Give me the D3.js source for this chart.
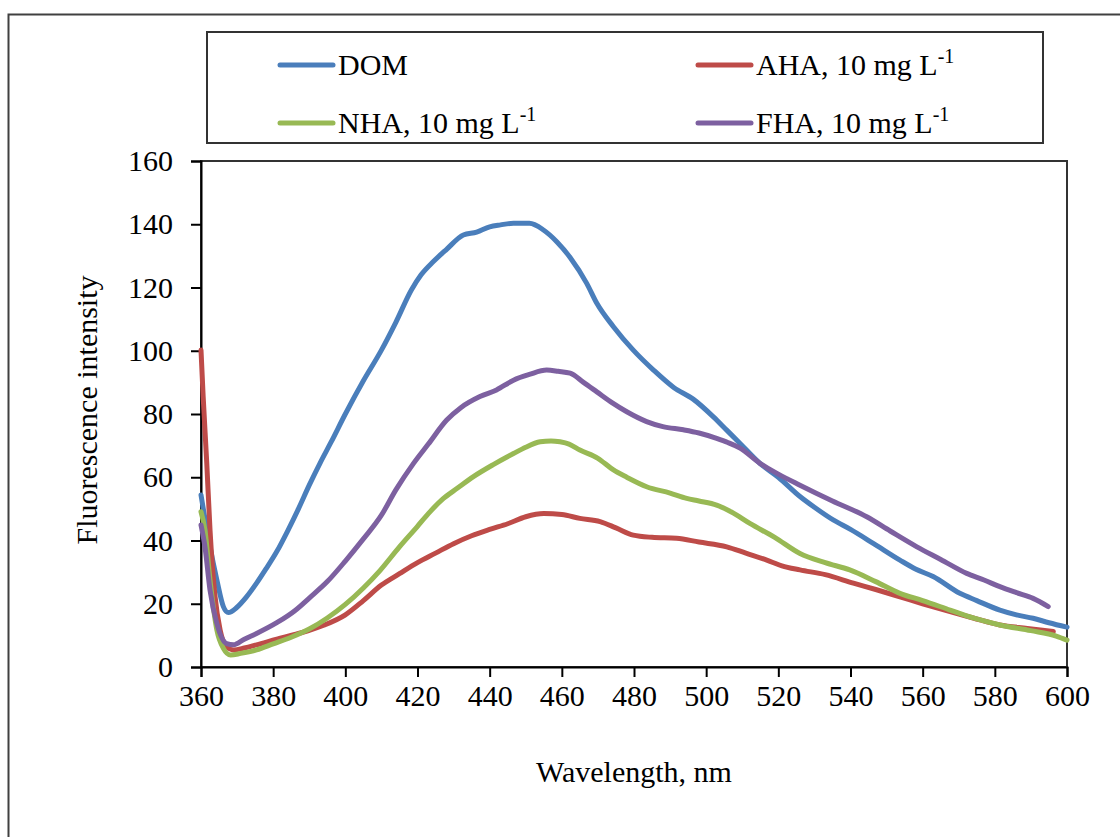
<!DOCTYPE html>
<html><head><meta charset="utf-8">
<script src="https://cdn.jsdelivr.net/npm/d3@7"></script>
<style>
body{margin:0;background:#fff;}
</style></head>
<body><svg id="c" width="1120" height="837"></svg>
<script>
const seriesNames = ["DOM", "AHA, 10 mg L", "NHA, 10 mg L", "FHA, 10 mg L"];
const seriesSup = ["", "-1", "-1", "-1"];
const seriesColors = ["#4A7EBB", "#BE4B48", "#98B954", "#7D60A0"];
const xTicks = [360,380,400,420,440,460,480,500,520,540,560,580,600];
const yTicks = [0,20,40,60,80,100,120,140,160];

const domWl = [360,361,362.5,364.4,366.2,367.6,369.9,372.5,375.4,378,381,384,387,390,393,396,400,405,410,414,418.3,421,424.4,428,432.7,436.4,440,443,446.6,451,454.9,458.6,462.3,466.9,469.7,474.3,479.8,485.4,491,496.4,502,505.7,509.4,514.9,520,526,530,535.2,540,546.3,553.7,558,562.9,570.3,575,581.4,586,590.6,595,600];
const domVal = [54.4,47.5,38,27.5,19.1,17.2,18.8,22,26.5,31,36.5,43,50,57.5,64.5,71,80,90.5,100.2,109,119.2,124,128.2,132,136.6,137.5,139.2,139.8,140.3,140.3,138.2,134.5,129.5,121.3,115,107.6,100.2,93.9,88.4,84.7,79.1,74.9,70.7,64.4,60,53.9,50.5,46.5,43.5,39.1,33.8,31,28.6,23.3,21,18,16.5,15.4,14,12.6];

const ahaWl = [360,360.6,361.6,362.5,363.9,365.3,367.1,369,372,375.4,381,386,390,394,400,405,410,415,420,425,430,435,440,445,450,455,460,465,470.6,475,479.8,485,491.8,498,505.7,511,516.8,521,526,533,540.8,547,553.7,560,567.6,574,581.4,589,596.2];
const ahaVal = [100.2,85.5,64.4,43.3,22.2,11.7,6.4,5.4,6,7,8.8,10.3,11.6,13.2,16.5,21,25.9,29.5,33,36,39,41.5,43.5,45.3,47.5,48.5,48.2,47,46,44,41.7,41,40.7,39.5,38,36,33.8,32,30.7,29.2,26.5,24.5,22.2,20,17.5,15.5,13.3,12.2,11.2];

const nhaWl = [360,361.1,362.5,364.4,366.2,368.2,371,375.4,380,385,390,395,400,405,409.6,415,420,423,427.2,431,435.5,441,446.6,450,454,457,459.5,462,465,470,474.3,478,483.5,490,494.6,498,502.9,507,512.1,519,526,533,539.8,547,553.7,560,567.6,574,581.4,590,597,600];
const nhaVal = [49.1,43.3,27.5,11.7,5.9,3.8,4.3,5.4,7.3,9.4,12,15.5,19.8,25,30.5,38,44.5,48.5,53.3,56.5,60.2,64,67.5,69.5,71.2,71.5,71.2,70.5,68.6,66,62.3,60,57,55,53.3,52.5,51.2,49,45.4,41,35.9,33,30.7,27,23.3,21,18,15.5,13.3,11.5,9.8,8.5];

const fhaWl = [360,361.1,362.5,364.4,367.1,369,372,375.4,381,386,390,395,400,405,410,414,418.9,423,428.1,432,437.3,441.9,446.6,451,455.8,459,462.3,466,469.7,474,478,483.5,488,493.7,498,502.9,506,509.4,514.9,520,526,535,544.5,551,558.4,565,572.2,577,581.4,586,590.6,594.8];
const fhaVal = [44.9,38,24.3,13.7,7.4,7,8.8,10.6,14,17.8,21.8,27,33.5,40.5,48,56,64.4,70.5,78.1,82,85.5,87.6,90.7,92.5,93.9,93.5,92.9,90,87,83.5,80.7,77.6,76,75,74,72.3,71,69.2,64.4,61,57.5,52.5,47.5,43,38,34,29.6,27.5,25.4,23.5,21.7,19.1];

const seriesWl = [domWl, ahaWl, nhaWl, fhaWl];
const seriesVal = [domVal, ahaVal, nhaVal, fhaVal];

const FONT = "Liberation Serif, serif";
const svg = d3.select("#c");
const L = 201, R = 1067, T = 161, B = 667;
const x = d3.scaleLinear().domain([360,600]).range([L,R]);
const y = d3.scaleLinear().domain([0,160]).range([B,T]);

// outer frame
svg.append("rect").attr("x",8.5).attr("y",14.5).attr("width",1140).attr("height",860)
  .attr("fill","none").attr("stroke","#404040").attr("stroke-width",2);

// plot area frame
svg.append("rect").attr("x",L).attr("y",T).attr("width",R-L).attr("height",B-T)
  .attr("fill","none").attr("stroke","#333").attr("stroke-width",2);

// axes
const yAxis = svg.append("g").attr("transform",`translate(${L},0)`)
  .call(d3.axisLeft(y).tickValues(yTicks).tickSize(10).tickPadding(18).tickFormat(d3.format("d")));
const xAxis = svg.append("g").attr("transform",`translate(0,${B})`)
  .call(d3.axisBottom(x).tickValues(xTicks).tickSize(10).tickPadding(8).tickFormat(d3.format("d")));
[xAxis,yAxis].forEach(g=>{
  g.attr("font-family",null);
  g.select(".domain").attr("stroke","#000").attr("stroke-width",2);
  g.selectAll(".tick line").attr("stroke","#000").attr("stroke-width",2);
  g.selectAll(".tick text").attr("fill","#000").style("font-family",FONT).style("font-size","30px");
});

// lines
const line = d3.line().x(d=>x(d[0])).y(d=>y(d[1])).curve(d3.curveMonotoneX);
seriesWl.forEach((wl,i)=>{
  const pts = wl.map((w,j)=>[w, seriesVal[i][j]]);
  svg.append("path").datum(pts).attr("d",line).attr("fill","none")
    .attr("stroke",seriesColors[i]).attr("stroke-width",5)
    .attr("stroke-linejoin","round").attr("stroke-linecap","round");
});

// axis titles
svg.append("text").attr("x",(L+R)/2).attr("y",782).attr("text-anchor","middle")
  .style("font-family",FONT).style("font-size","30px").text("Wavelength, nm");
svg.append("text").attr("transform","translate(97,410) rotate(-90)").attr("text-anchor","middle")
  .style("font-family",FONT).style("font-size","30px").text("Fluorescence intensity");

// legend
svg.append("rect").attr("x",207).attr("y",32).attr("width",836).attr("height",111)
  .attr("fill","#fff").attr("stroke","#333").attr("stroke-width",2);
const legPos = [[280,62],[698,62],[280,120],[698,120]];
seriesNames.forEach((n,i)=>{
  const [lx,ly] = legPos[i];
  svg.append("line").attr("x1",lx).attr("x2",lx+53).attr("y1",ly+3).attr("y2",ly+3)
    .attr("stroke",seriesColors[i]).attr("stroke-width",5).attr("stroke-linecap","round");
  const t = svg.append("text").attr("x",lx+58).attr("y",ly+13)
    .style("font-family",FONT).style("font-size","30px");
  t.append("tspan").style("font-family",FONT).text(n);
  if (seriesSup[i]) {
    t.append("tspan").attr("dy",-12).style("font-family",FONT).style("font-size","20px").text(seriesSup[i]);
  }
});
</script></body></html>
